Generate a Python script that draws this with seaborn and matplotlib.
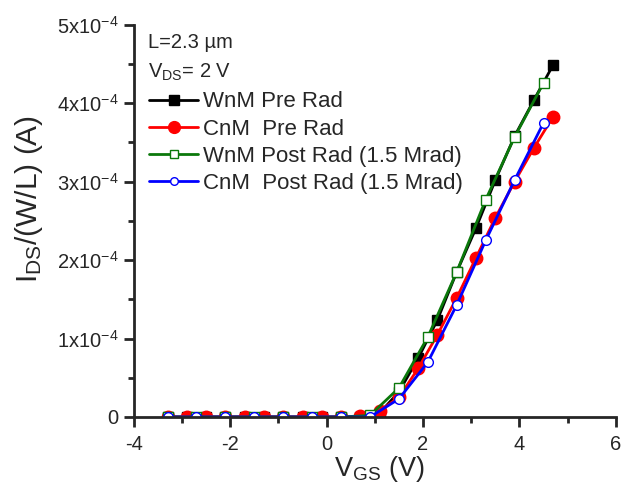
import numpy as np
import pandas as pd
import matplotlib
matplotlib.use("Agg")
import matplotlib.pyplot as plt
import seaborn as sns
from matplotlib.lines import Line2D

# ---- data (V_GS in V, I_DS/(W/L) in A) ----
x_pre = [-3.3, -2.9, -2.5, -2.1, -1.7, -1.3, -0.9, -0.5, -0.1, 0.3, 0.7,
         1.1, 1.5, 1.9, 2.3, 2.7, 3.1, 3.5, 3.9, 4.3, 4.7]
wnm_pre = [0, 0, 0, 0, 0, 0, 0, 0, 0, 0, 0,
           0.05e-4, 0.32e-4, 0.75e-4, 1.24e-4, 1.85e-4, 2.41e-4, 3.02e-4, 3.58e-4, 4.04e-4, 4.49e-4]
cnm_pre = [0, 0, 0, 0, 0, 0, 0, 0, 0, 0, 0.01e-4,
           0.08e-4, 0.25e-4, 0.62e-4, 1.05e-4, 1.52e-4, 2.03e-4, 2.54e-4, 3.0e-4, 3.43e-4, 3.83e-4]
x_post = [-3.3, -2.7, -2.1, -1.5, -0.9, -0.3, 0.3, 0.9, 1.5, 2.1, 2.7, 3.3, 3.9, 4.5]
wnm_post = [0, 0, 0, 0, 0, 0, 0, 0.02e-4, 0.37e-4, 1.02e-4, 1.85e-4, 2.77e-4, 3.57e-4, 4.26e-4]
cnm_post = [0, 0, 0, 0, 0, 0, 0, 0.0, 0.23e-4, 0.70e-4, 1.43e-4, 2.25e-4, 3.02e-4, 3.75e-4]

labels = ["WnM Pre Rad", "CnM  Pre Rad", "WnM Post Rad (1.5 Mrad)", "CnM  Post Rad (1.5 Mrad)"]
yticks = [0, 1e-4, 2e-4, 3e-4, 4e-4, 5e-4]
yticklabels = ["0", "1x10$^{-4}$", "2x10$^{-4}$", "3x10$^{-4}$", "4x10$^{-4}$", "5x10$^{-4}$"]
xticks = [-4, -2, 0, 2, 4, 6]

sns.set_style("ticks")
plt.rcParams["font.family"] = ["Liberation Sans", "DejaVu Sans"]
plt.rcParams["mathtext.fontset"] = "custom"
plt.rcParams["mathtext.rm"] = "Liberation Sans"
plt.rcParams["mathtext.it"] = "Liberation Sans:italic"
plt.rcParams["mathtext.bf"] = "Liberation Sans:bold"

fig = plt.figure(figsize=(6.31, 4.86), dpi=100)
ax = fig.add_axes([0.212, 0.142, 0.764, 0.807])

green = "#0b780b"
styles = [
    dict(x=x_pre, y=wnm_pre, color="black", marker="s", mfc="black", ms=7.5, lms=6.5),
    dict(x=x_pre, y=cnm_pre, color="red", marker="o", mfc="red", ms=9, lms=8.5),
    dict(x=x_post, y=wnm_post, color=green, marker="s", mfc="white", ms=7, lms=5.5),
    dict(x=x_post, y=cnm_post, color="blue", marker="o", mfc="white", ms=7, lms=5.5),
]
handles = []
for st, lab in zip(styles, labels):
    sns.lineplot(x=st["x"], y=st["y"], ax=ax, color=st["color"], lw=2,
                 marker=st["marker"], markersize=st["ms"],
                 markerfacecolor=st["mfc"], markeredgecolor=st["color"],
                 markeredgewidth=1.0, legend=False)
    handles.append(Line2D([], [], color=st["color"], lw=2, marker=st["marker"],
                          markersize=st["lms"], markerfacecolor=st["mfc"],
                          markeredgecolor=st["color"], markeredgewidth=1.0))

ax.set_xlim(-4, 6)
ax.set_ylim(0, 5e-4)
ax.set_xticks(xticks)
ax.set_xticklabels([str(v) for v in xticks])
ax.set_yticks(yticks)
ax.set_yticklabels(yticklabels)
ax.set_xticks([-3, -1, 1, 3, 5], minor=True)
ax.set_yticks([0.5e-4, 1.5e-4, 2.5e-4, 3.5e-4, 4.5e-4], minor=True)
ax.tick_params(axis="both", which="major", direction="out", length=7, width=2, labelsize=14.5)
ax.tick_params(axis="x", which="major", pad=6)
ax.tick_params(axis="y", which="major", pad=4)
ax.tick_params(axis="both", which="minor", direction="out", length=4, width=2)
for s in ["top", "right"]:
    ax.spines[s].set_visible(False)
for s in ["left", "bottom"]:
    ax.spines[s].set_linewidth(2)

ax.set_xlabel(r"V$_{\mathrm{GS}}$ (V)", fontsize=19.5, labelpad=0)
ax.xaxis.set_label_coords(0.51, -0.095)
ax.set_ylabel(r"I$_{\mathrm{DS}}$/(W/L) (A)", fontsize=21.5)
ax.yaxis.set_label_coords(-0.185, 0.555)

ax.text(0.029, 0.98, "L=2.3 µm", transform=ax.transAxes, fontsize=14.5, va="top", ha="left")
ax.text(0.029, 0.905, r"V$_{\mathrm{DS}}$= 2 V", transform=ax.transAxes, fontsize=14.5, va="top", ha="left")

ax.legend(handles, labels, loc="upper left", bbox_to_anchor=(0.0, 0.87), frameon=False,
          fontsize=16, handlelength=2.2, handletextpad=0.2, labelspacing=0.28, borderaxespad=0.3)

fig.savefig("out.png", dpi=100)
